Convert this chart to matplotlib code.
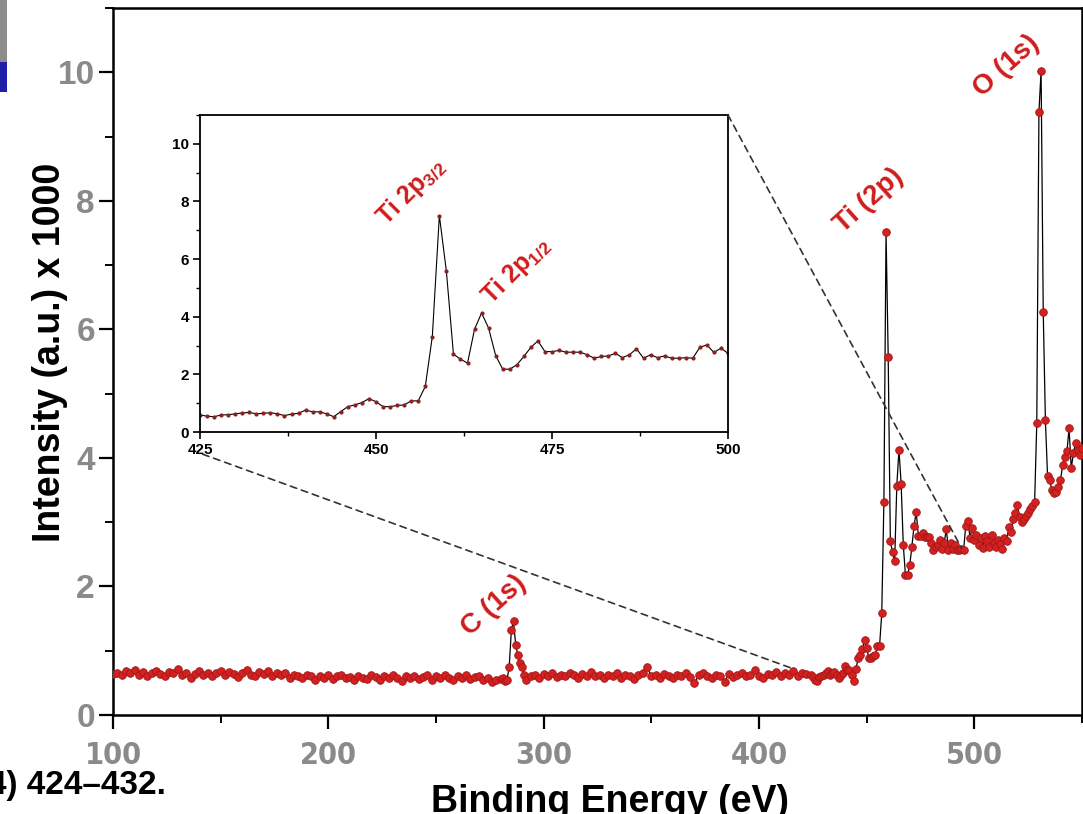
import numpy as np
import matplotlib.pyplot as plt
from matplotlib import font_manager as fm
from matplotlib.patches import ConnectionPatch, Rectangle
from matplotlib.ticker import MultipleLocator

plt.rcParams['font.family'] = ['Liberation Sans', 'DejaVu Sans']
plt.rcParams['mathtext.fontset'] = 'custom'
plt.rcParams['mathtext.rm'] = 'Liberation Sans'
plt.rcParams['mathtext.bf'] = 'Liberation Sans:bold'

# survey spectrum, baseline 100-278 eV (2 eV steps)
e_base1 = np.arange(100, 279, 2)
i_base1 = [0.64, 0.66, 0.62, 0.68, 0.65, 0.70, 0.63, 0.67, 0.61, 0.66,
           0.69, 0.64, 0.60, 0.67, 0.65, 0.71, 0.62, 0.66, 0.58, 0.64,
           0.68, 0.63, 0.66, 0.60, 0.65, 0.69, 0.62, 0.67, 0.64, 0.59,
           0.66, 0.70, 0.63, 0.61, 0.67, 0.64, 0.68, 0.60, 0.65, 0.62,
           0.66, 0.58, 0.63, 0.61, 0.57, 0.62, 0.60, 0.55, 0.61, 0.58,
           0.63, 0.56, 0.60, 0.62, 0.57, 0.59, 0.54, 0.61, 0.58, 0.56,
           0.62, 0.59, 0.55, 0.60, 0.57, 0.63, 0.58, 0.53, 0.60, 0.57,
           0.61, 0.56, 0.59, 0.62, 0.55, 0.60, 0.58, 0.63, 0.57, 0.54,
           0.60, 0.58, 0.62, 0.56, 0.59, 0.61, 0.55, 0.58, 0.52, 0.55]

# C 1s region 280-292 eV
e_c1s = np.arange(280, 293, 1)
i_c1s = [0.56, 0.58, 0.53, 0.55, 0.75, 1.32, 1.46, 1.09, 0.93, 0.81, 0.75, 0.62, 0.55]

# baseline 294-424 eV (2 eV steps)
e_base2 = np.arange(294, 425, 2)
i_base2 = [0.60, 0.63, 0.58, 0.64, 0.61, 0.66, 0.59, 0.63, 0.60, 0.65,
           0.62, 0.58, 0.64, 0.61, 0.67, 0.60, 0.63, 0.57, 0.62, 0.60,
           0.65, 0.58, 0.63, 0.61, 0.56, 0.62, 0.66, 0.75, 0.60, 0.63,
           0.58, 0.64, 0.61, 0.57, 0.63, 0.60, 0.66, 0.59, 0.50, 0.62,
           0.65, 0.60, 0.57, 0.63, 0.61, 0.52, 0.64, 0.59, 0.62, 0.66,
           0.60, 0.63, 0.70, 0.61, 0.58, 0.64, 0.62, 0.67, 0.60, 0.65,
           0.63, 0.68, 0.61, 0.66, 0.64, 0.62]

# Ti 2p region 425-500 eV (also shown in the inset)
e_ti = np.arange(425, 501, 1)
i_ti = [0.59, 0.55, 0.53, 0.59, 0.60, 0.63, 0.66, 0.68, 0.63, 0.65,
        0.67, 0.63, 0.57, 0.62, 0.65, 0.76, 0.70, 0.70, 0.63, 0.53,
        0.71, 0.88, 0.94, 1.02, 1.16, 1.05, 0.88, 0.88, 0.92, 0.94,
        1.08, 1.08, 1.58, 3.31, 7.51, 5.57, 2.70, 2.53, 2.39, 3.57,
        4.13, 3.60, 2.65, 2.18, 2.18, 2.33, 2.62, 2.94, 3.16, 2.79,
        2.79, 2.83, 2.77, 2.77, 2.77, 2.68, 2.56, 2.62, 2.64, 2.73,
        2.58, 2.68, 2.89, 2.56, 2.68, 2.58, 2.64, 2.56, 2.56, 2.58,
        2.56, 2.94, 3.02, 2.76, 2.91, 2.73]

# O 1s region 501-550 eV
e_o1s = np.arange(501, 551, 1)
i_o1s = [2.80, 2.65, 2.75, 2.60, 2.78, 2.70, 2.62, 2.80, 2.68, 2.62,
         2.72, 2.66, 2.58, 2.75, 2.70, 2.92, 2.85, 3.05, 3.14, 3.27,
         3.08, 3.00, 3.05, 3.10, 3.14, 3.20, 3.25, 3.31, 4.54, 9.38,
         10.02, 6.27, 4.59, 3.72, 3.65, 3.50, 3.45, 3.47, 3.55, 3.65,
         3.89, 4.01, 4.10, 4.46, 3.84, 4.07, 4.23, 4.12, 4.05, 4.15]

energy = np.concatenate([e_base1, e_c1s, e_base2, e_ti, e_o1s])
intensity = np.concatenate([i_base1, i_c1s, i_base2, i_ti, i_o1s])

peak_labels = ['C (1s)', 'Ti (2p)', 'O (1s)']
peak_pos = [(277, 1.70), (451, 8.0), (515, 10.1)]

red = '#d01c1c'
gray = '#8a8a8a'

# narrow font for the x tick labels if one is installed
fonts = {(f.name, f.stretch) for f in fm.fontManager.ttflist}
narrow = dict(family='Liberation Sans')
if any(n == 'Liberation Sans Narrow' for n, s in fonts):
    narrow = dict(family='Liberation Sans Narrow')
elif ('DejaVu Sans', 'condensed') in fonts:
    narrow = dict(family='DejaVu Sans', stretch='condensed')

fig = plt.figure(figsize=(10.83, 8.14), dpi=100)
ax = fig.add_axes([113 / 1083, 99 / 814, 969 / 1083, 707 / 814])
ax.plot(energy, intensity, color='black', lw=0.9, marker='o', ms=5.5,
        mfc='#d42020', mec='#a01818', mew=0.6, zorder=3)
ax.set_xlim(100, 550)
ax.set_ylim(0, 11)
ax.xaxis.set_major_locator(MultipleLocator(100))
ax.xaxis.set_minor_locator(MultipleLocator(50))
ax.yaxis.set_major_locator(MultipleLocator(2))
ax.yaxis.set_minor_locator(MultipleLocator(1))
ax.tick_params(which='major', direction='out', length=10, width=1.6, colors='black')
ax.tick_params(which='minor', direction='out', length=6, width=1.4)
ax.tick_params(axis='x', which='major', pad=9)
ax.tick_params(axis='y', which='major', pad=3)
for lab in ax.get_xticklabels():
    lab.set_family(narrow['family'])
    if 'stretch' in narrow:
        lab.set_stretch(narrow['stretch'])
    lab.set_fontsize(22)
    lab.set_weight('bold')
    lab.set_color(gray)
for lab in ax.get_yticklabels():
    lab.set_fontsize(24)
    lab.set_weight('bold')
    lab.set_color(gray)
for sp in ax.spines.values():
    sp.set_linewidth(1.8)

for txt, (px, py) in zip(peak_labels, peak_pos):
    ax.text(px, py, txt, color=red, fontsize=20, weight='bold', rotation=42,
            ha='center', va='center', rotation_mode='anchor')

# inset
axins = fig.add_axes([200 / 1083, 382 / 814, 528 / 1083, 317 / 814])
axins.plot(e_ti, i_ti, color='black', lw=0.8, marker='o', ms=2,
           mfc='#8b2020', mec='#8b2020')
axins.set_xlim(425, 500)
axins.set_ylim(0, 11)
axins.xaxis.set_major_locator(MultipleLocator(25))
axins.xaxis.set_minor_locator(MultipleLocator(12.5))
axins.yaxis.set_major_locator(MultipleLocator(2))
axins.yaxis.set_minor_locator(MultipleLocator(1))
axins.tick_params(which='major', direction='out', length=5, width=1.2, labelsize=11, pad=3)
axins.tick_params(which='minor', direction='out', length=3, width=1.0)
for lab in axins.get_xticklabels() + axins.get_yticklabels():
    lab.set_weight('bold')
for sp in axins.spines.values():
    sp.set_linewidth(1.3)
axins.text(455.0, 8.35, r'Ti 2p$_{\mathbf{3/2}}$', color=red, fontsize=18, weight='bold',
           rotation=45, ha='center', va='center', rotation_mode='anchor')
axins.text(469.8, 5.6, r'Ti 2p$_{\mathbf{1/2}}$', color=red, fontsize=18, weight='bold',
           rotation=45, ha='center', va='center', rotation_mode='anchor')

# zoom guide lines
for xa, xb in [((1, 1), (494, 2.6)), ((0.005, -0.07), (415, 0.73))]:
    con = ConnectionPatch(xyA=xa, coordsA=axins.transAxes, xyB=xb, coordsB=ax.transData,
                          linestyle=(0, (4, 3)), color='#333333', lw=1.2, zorder=5)
    fig.add_artist(con)

fig.text(0.046, 0.567, 'Intensity (a.u.) x 1000', rotation=90, fontsize=27,
         weight='bold', ha='center', va='center')
fig.text(0.563, 0.002, 'Binding Energy (eV)', fontsize=27, weight='bold',
         ha='center', va='baseline')
fig.text(0.153, 0.024, '4) 424\u2013432.', fontsize=24, weight='bold',
         ha='right', va='baseline')

# fragments of neighbouring image at top-left edge
fig.add_artist(Rectangle((0, 1 - 62 / 814), 7 / 1083, 62 / 814, transform=fig.transFigure,
                         color='#8c8c8c', lw=0))
fig.add_artist(Rectangle((0, 1 - 92 / 814), 7 / 1083, 30 / 814, transform=fig.transFigure,
                         color='#1f1fa8', lw=0))

fig.savefig('out.png', dpi=100)
